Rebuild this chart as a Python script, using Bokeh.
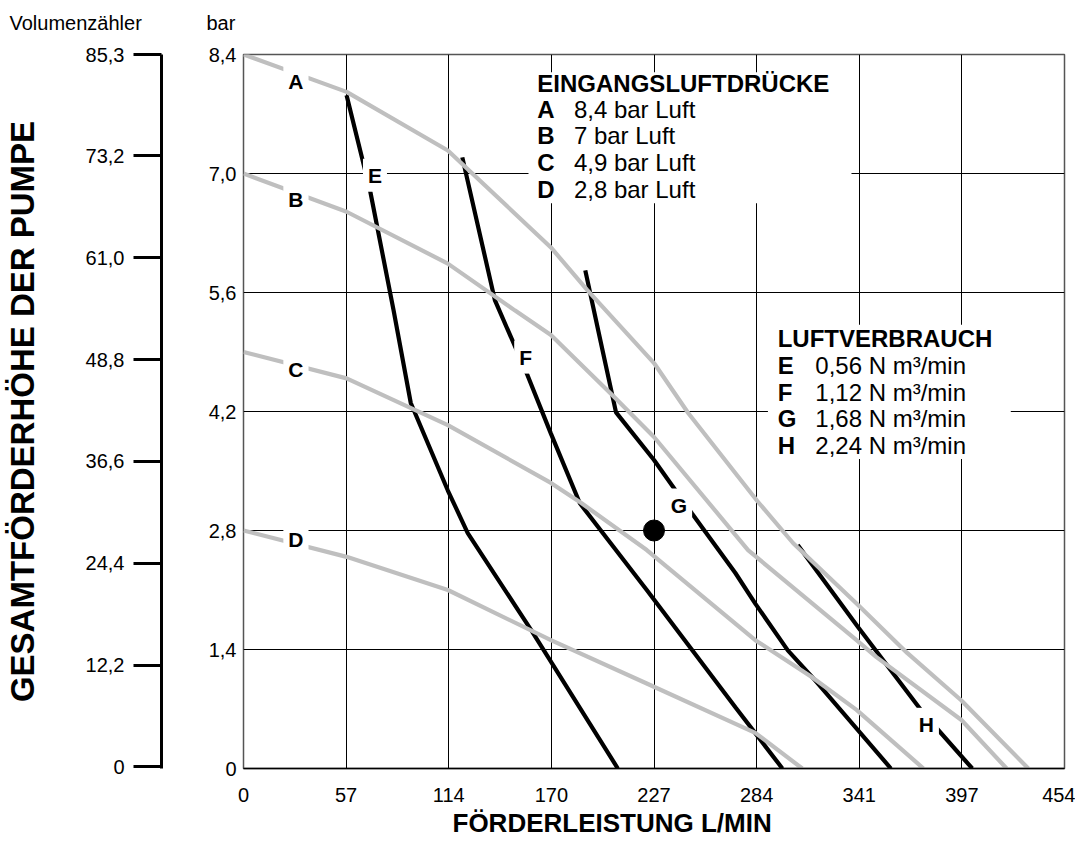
from bokeh.plotting import figure
from bokeh.models import LinearAxis, Range1d, FixedTicker, Title
from bokeh.core.properties import value
from bokeh.embed import file_html
from bokeh.resources import INLINE

FONT = "Liberation Sans"

# ---------------- data ----------------
x_ticks = [0, 56.75, 113.5, 170.25, 227, 283.75, 340.5, 397.25, 454]
x_tick_labels = ["0", "57", "114", "170", "227", "284", "341", "397", "454"]
y_ticks = [0, 1.4, 2.8, 4.2, 5.6, 7.0, 8.4]
y_tick_labels = ["0", "1,4", "2,8", "4,2", "5,6", "7,0", "8,4"]
vol_ticks = [0, 12.2, 24.4, 36.6, 48.8, 61.0, 73.2, 85.3]
vol_tick_labels = ["0", "12,2", "24,4", "36,6", "48,8", "61,0", "73,2", "85,3"]

# inlet air pressure curves (grey)
A_x = [0, 57, 113, 170, 190, 227, 246, 284, 304, 340, 367, 397, 434]
A_y = [8.4, 7.96, 7.27, 6.13, 5.63, 4.77, 4.18, 3.15, 2.65, 1.92, 1.36, 0.80, 0]
B_x = [0, 57, 113, 150, 170, 205, 227, 279, 339, 350, 397, 422]
B_y = [7.0, 6.55, 5.94, 5.39, 5.10, 4.37, 3.90, 2.57, 1.51, 1.31, 0.57, 0]
C_x = [0, 57, 113, 170, 187, 223, 283, 314, 339, 376]
C_y = [4.9, 4.59, 4.04, 3.36, 3.12, 2.57, 1.51, 1.08, 0.69, 0]
D_x = [0, 57, 113, 170, 223, 283, 309]
D_y = [2.8, 2.49, 2.10, 1.51, 1.0, 0.42, 0]

# air consumption curves (black)
E_x = [57, 70, 83, 92.5, 113, 124, 159, 207]
E_y = [7.92, 6.80, 5.39, 4.30, 3.27, 2.77, 1.63, 0]
F_x = [121, 139, 157, 170, 186, 223, 272, 298]
F_y = [7.19, 5.51, 4.63, 3.94, 3.12, 2.10, 0.72, 0]
G_x = [189, 197, 206, 227, 248, 272, 283, 301, 316, 358]
G_y = [5.86, 5.07, 4.19, 3.63, 3.0, 2.30, 1.94, 1.39, 1.04, 0]
H_x = [306.5, 340, 376, 403]
H_y = [2.63, 1.66, 0.65, 0]

# operating point
pt_x = [227]
pt_y = [2.8]

# curve letters
curve_letters = ["A", "B", "C", "D", "E", "F", "G", "H"]
letter_x = [29, 29, 29, 29, 72.7, 156, 240.8, 377.6]
letter_y = [8.08, 6.70, 4.69, 2.69, 6.98, 4.84, 3.10, 0.52]

# legend blocks
press_title = "EINGANGSLUFTDRÜCKE"
press_keys = ["A", "B", "C", "D"]
press_vals = ["8,4 bar Luft", "7 bar Luft", "4,9 bar Luft", "2,8 bar Luft"]
air_title = "LUFTVERBRAUCH"
air_keys = ["E", "F", "G", "H"]
air_vals = ["0,56 N m³/min", "1,12 N m³/min", "1,68 N m³/min", "2,24 N m³/min"]

# ---------------- layout constants ----------------
press_box = dict(left=157.6, right=336.2, top=8.19, bottom=6.65)
air_box = dict(left=290.0, right=424.3, top=5.22, bottom=3.64)
press_title_pos = (162.5, 8.062)
press_row_y = [7.756, 7.45, 7.133, 6.815]
press_key_x, press_val_x = 162.5, 182.7
air_title_pos = (295.4, 5.062)
air_row_y = [4.745, 4.427, 4.121, 3.804]
air_key_x, air_val_x = 295.4, 316.2

GREY = "#bfbfbf"

p = figure(width=1075, height=845, x_range=Range1d(0, 454), y_range=Range1d(0, 8.4),
           output_backend="svg", toolbar_location=None, title=None,
           min_border_left=235, min_border_right=11, min_border_top=54, min_border_bottom=77)
p.background_fill_color = "white"
p.border_fill_color = "white"
p.outline_line_color = "#555555"
p.outline_line_width = 1.5

p.extra_y_ranges = {"vol": Range1d(-0.2, 85.35)}

# grid
p.xgrid.ticker = FixedTicker(ticks=x_ticks)
p.ygrid.ticker = FixedTicker(ticks=y_ticks)
for g in (p.xgrid, p.ygrid):
    g.grid_line_color = "black"
    g.grid_line_width = 1

# x axis
xa = p.xaxis[0]
xa.ticker = FixedTicker(ticks=x_ticks)
xa.major_label_overrides = {t: l for t, l in zip(x_ticks, x_tick_labels)}
xa.major_tick_out = 0
xa.major_tick_in = 0
xa.minor_tick_line_color = None
xa.major_label_standoff = 19
xa.major_label_text_font = FONT
xa.major_label_text_font_size = "20px"
xa.major_label_text_color = "black"
xa.axis_line_color = "black"
xa.axis_line_width = 1.5

# x axis title (placed left of centre, as in the original)
p.add_layout(Title(text="FÖRDERLEISTUNG L/MIN", align="left", offset=209, standoff=6,
                   vertical_align="top", text_font=FONT, text_font_size="26px",
                   text_font_style="bold", text_color="black"), "below")

# main y axis (bar)
ya = p.yaxis[0]
ya.ticker = FixedTicker(ticks=y_ticks)
ya.major_label_overrides = {t: l for t, l in zip(y_ticks, y_tick_labels)}
ya.major_tick_out = 0
ya.major_tick_in = 0
ya.minor_tick_line_color = None
ya.major_label_standoff = 7
ya.major_label_text_font = FONT
ya.major_label_text_font_size = "20px"
ya.major_label_text_color = "black"
ya.axis_line_color = None
ya.axis_label = " "
ya.axis_label_text_font_size = "10px"
ya.axis_label_standoff = 30

# volume axis (m)
va = LinearAxis(y_range_name="vol", ticker=FixedTicker(ticks=vol_ticks))
va.major_label_overrides = {t: l for t, l in zip(vol_ticks, vol_tick_labels)}
va.axis_line_width = 3
va.axis_line_color = "black"
va.major_tick_line_width = 3
va.major_tick_line_color = "black"
va.major_tick_out = 28
va.major_tick_in = 0
va.minor_tick_line_color = None
va.major_label_standoff = 9
va.major_label_text_font = FONT
va.major_label_text_font_size = "20px"
va.major_label_text_color = "black"
va.axis_label = "GESAMTFÖRDERHÖHE DER PUMPE"
va.axis_label_text_font = FONT
va.axis_label_text_font_size = "33px"
va.axis_label_text_font_style = "bold"
va.axis_label_text_color = "black"
va.axis_label_standoff = 42
p.add_layout(va, "left")

# unit captions above the axes (a blank spacer row, then both captions on one line)
p.add_layout(Title(text=" ", text_font_size="10px", standoff=39), "above")
p.add_layout(Title(text="bar", align="left", offset=-37, standoff=-62, text_font=FONT,
                   text_font_size="20px", text_font_style="normal", text_color="black"), "above")
p.add_layout(Title(text="Volumenzähler", align="left", offset=-234, standoff=-62, text_font=FONT,
                   text_font_size="20px", text_font_style="normal", text_color="black"), "above")

# legend boxes (hide the grid behind the text)
p.quad(left=[press_box["left"], air_box["left"]], right=[press_box["right"], air_box["right"]],
       top=[press_box["top"], air_box["top"]], bottom=[press_box["bottom"], air_box["bottom"]],
       fill_color="white", line_color=None)

# curves: black first, grey on top
for xs, ys in [(E_x, E_y), (F_x, F_y), (G_x, G_y), (H_x, H_y)]:
    p.line(xs, ys, line_color="black", line_width=4.2)
for xs, ys in [(A_x, A_y), (B_x, B_y), (C_x, C_y), (D_x, D_y)]:
    p.line(xs, ys, line_color=GREY, line_width=4.2)

p.scatter(pt_x, pt_y, size=21, color="black")

# curve letters
p.text(x=letter_x, y=letter_y, text=curve_letters, text_align="center", text_baseline="middle",
       text_font=value(FONT), text_font_size=value("21px"), text_font_style="bold",
       text_color="black", background_fill_color="white", padding=5)

# legend texts
def legend_block(title, tpos, keys, vals, rows_y, kx, vx):
    p.text(x=[tpos[0]], y=[tpos[1]], text=[title], text_baseline="middle",
           text_font=value(FONT), text_font_size=value("24px"), text_font_style="bold",
           text_color="black")
    p.text(x=[kx] * len(keys), y=rows_y, text=keys, text_baseline="middle",
           text_font=value(FONT), text_font_size=value("24px"), text_font_style="bold",
           text_color="black")
    p.text(x=[vx] * len(vals), y=rows_y, text=vals, text_baseline="middle",
           text_font=value(FONT), text_font_size=value("24px"), text_color="black")

legend_block(press_title, press_title_pos, press_keys, press_vals, press_row_y, press_key_x, press_val_x)
legend_block(air_title, air_title_pos, air_keys, air_vals, air_row_y, air_key_x, air_val_x)

open("out.html", "w").write(file_html(p, INLINE))
